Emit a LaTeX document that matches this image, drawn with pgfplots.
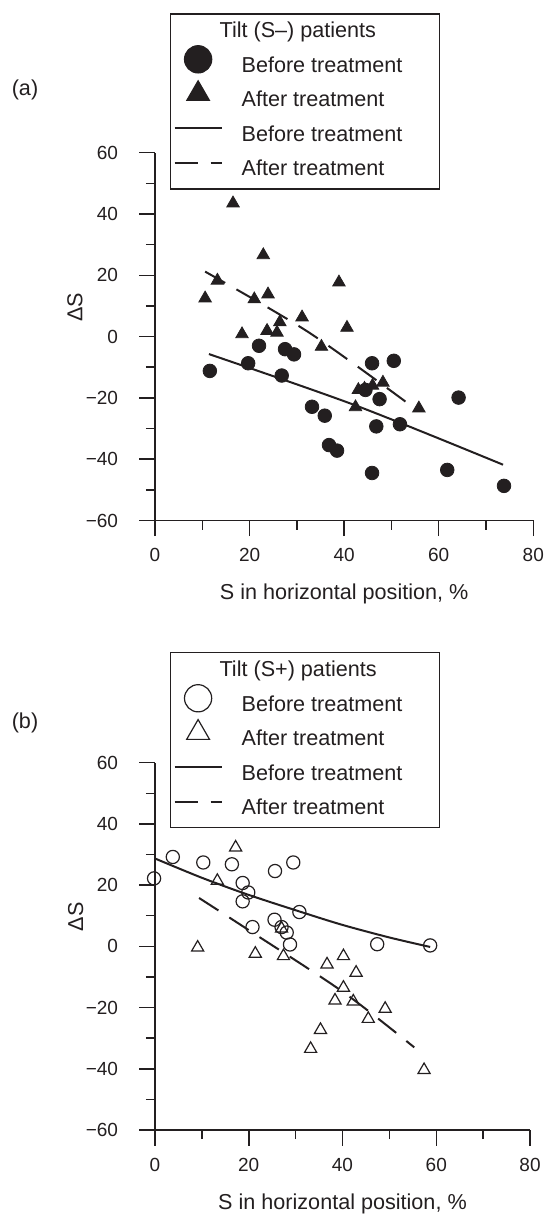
\documentclass[border=0pt]{standalone}
\usepackage{fontspec}
\setmainfont{Liberation Sans}
\usepackage{pgfplots}
\pgfplotsset{compat=1.18}
\definecolor{ink}{RGB}{35,31,32}
\newcommand\LE[1]{\makebox[97pt][l]{#1}}
\pgfplotsset{
  legend image code/.code={\path[draw=none, fill=none, use as bounding box] (0pt,-2.5pt) rectangle (23.5pt,8pt);
    \draw[mark repeat=2,mark phase=2,#1] plot coordinates {(0pt,3.8pt) (11.75pt,3.8pt) (23.5pt,3.8pt)};},
  panel/.style={
    scale only axis,
    xmin=0,xmax=80,ymin=-60,ymax=60,
    axis lines*=left, axis line style={line width=0.75pt, ink, -},
    xtick={0,20,40,60,80}, xticklabels={0,20,40,60,80},
    ytick={-60,-40,-20,0,20,40,60}, yticklabels={−60,−40,−20,0,20,40,60},
    minor xtick={10,30,50,70}, minor ytick={-50,-30,-10,10,30,50},
    tick align=outside, major tick length=7.8pt, minor tick length=4.6pt,
    tick style={line width=0.75pt, color=ink},
    ticklabel style={font=\fontsize{9.5}{11}\selectfont, text=ink},
    yticklabel style={anchor=east, inner sep=0pt, xshift=-10.5pt},
    xticklabel style={anchor=north, inner sep=0pt, yshift=-6pt},
    label style={font=\fontsize{10.8}{13}\selectfont, text=ink},
    xlabel={S in horizontal position, \%},
    ylabel={ΔS},
    xlabel style={at={(axis description cs:0.5,-0.2)}, anchor=center},
    ylabel style={at={(axis description cs:-0.2115,0.58)}, anchor=center},
    clip=false,
    legend cell align=left,
    legend style={anchor=north west, draw=ink, line width=0.6pt, fill=white,
      font=\fontsize{10.8}{13}\selectfont, text=ink,
      inner xsep=2pt, inner ysep=4pt, row sep=4pt, column sep=10pt,
      nodes={inner sep=0pt, text height=8pt, text depth=2.5pt}},
  }
}
\begin{document}
\begin{tikzpicture}
\useasboundingbox (0,0) rectangle (272.5pt,610.5pt);
\node[font=\fontsize{10.8}{13}\selectfont, text=ink] at (12.5pt,565.5pt) {(a)};
\node[font=\fontsize{10.8}{13}\selectfont, text=ink] at (12.5pt,249pt) {(b)};
% Panel (a)
\begin{axis}[panel, at={(77.5pt,350.25pt)}, anchor=south west, width=189.15pt, height=183.9pt,
  legend style={at={(axis description cs:0.0397,1.379)}}]
\addlegendimage{empty legend}
\addlegendentry{\hspace*{-11pt}Tilt (S–) patients}
\addplot[only marks, mark=*, mark size=3.4pt, color=ink, mark options={fill=ink},
  legend image post style={mark size=6.8pt}] coordinates {
(11.6,-11.2)(19.7,-8.7)(22.0,-3.0)(27.5,-4.1)(29.4,-5.8)(26.8,-12.7)(33.2,-22.9)
(35.9,-25.8)(36.8,-35.4)(38.5,-37.2)(45.9,-8.7)(50.5,-7.9)(44.5,-17.4)(47.5,-20.4)
(46.8,-29.3)(51.8,-28.6)(45.9,-44.5)(64.2,-19.9)(61.8,-43.5)(73.8,-48.7)};
\addlegendentry{\LE{Before treatment}}
\addplot[only marks, mark=triangle*, mark size=3.6pt, color=ink, mark options={fill=ink},
  legend image post style={mark size=6.5pt}] coordinates {
(16.5,43.5)(22.9,26.6)(13.2,18.3)(38.9,17.7)(10.6,12.5)(21.0,12.2)(23.9,13.8)
(31.1,6.3)(26.4,4.7)(40.6,2.9)(18.4,0.8)(23.7,1.9)(25.8,1.3)(35.2,-3.3)
(48.2,-15.0)(46.0,-16.0)(43.0,-17.4)(44.3,-17.0)(42.4,-23.0)(55.8,-23.4)};
\addlegendentry{\LE{After treatment}}
\addplot[no marks, smooth, color=ink, line width=1pt] coordinates {
(11.4,-5.7)(42.5,-22.5)(73.6,-41.8)};
\addlegendentry{\LE{Before treatment}}
\addplot[no marks, smooth, color=ink, line width=1pt, dash pattern=on 11.5pt off 6.5pt] coordinates {
(10.6,21.2)(32.4,1.5)(54.2,-22.6)};
\addlegendentry{\LE{After treatment}}
\end{axis}
% Panel (b)
\begin{axis}[panel, at={(77.5pt,45.5pt)}, anchor=south west, width=187.5pt, height=183.65pt,
  legend style={at={(axis description cs:0.04,1.3006)}}]
\addlegendimage{empty legend}
\addlegendentry{\hspace*{-11pt}Tilt (S+) patients}
\addplot[only marks, mark=o, mark size=3.3pt, color=ink, mark options={line width=0.6pt},
  legend image post style={mark size=6.8pt}] coordinates {
(-0.2,22.2)(3.8,29.2)(10.3,27.4)(16.4,26.8)(18.7,20.7)(19.9,17.6)(18.7,14.7)
(25.6,24.6)(29.5,27.4)(30.8,11.2)(20.8,6.3)(25.5,8.7)(27.0,6.3)(28.1,4.5)
(28.8,0.6)(47.4,0.7)(58.7,0.3)};
\addlegendentry{\LE{Before treatment}}
\addplot[only marks, mark=triangle, mark size=3.5pt, color=ink, mark options={line width=0.6pt},
  legend image post style={mark size=6.6pt}] coordinates {
(17.2,32.3)(13.3,21.4)(27.0,5.8)(9.1,-0.4)(21.4,-2.4)(27.4,-3.2)(36.7,-5.9)
(40.2,-3.2)(42.9,-8.6)(40.2,-13.5)(38.4,-17.7)(42.3,-18.0)(49.1,-20.4)
(45.5,-23.7)(35.3,-27.3)(33.2,-33.5)(57.4,-40.4)};
\addlegendentry{\LE{After treatment}}
\addplot[no marks, smooth, color=ink, line width=1pt] coordinates {
(0,28.7)(10,22.4)(20,16.8)(30.8,11.4)(40,7.0)(50,2.9)(58.7,-0.2)};
\addlegendentry{\LE{Before treatment}}
\addplot[no marks, smooth, color=ink, line width=1pt, dash pattern=on 11.5pt off 6.5pt] coordinates {
(9.4,15.8)(20.3,5.0)(40.2,-15.0)(55.3,-33.0)};
\addlegendentry{\LE{After treatment}}
\end{axis}
\end{tikzpicture}
\end{document}
